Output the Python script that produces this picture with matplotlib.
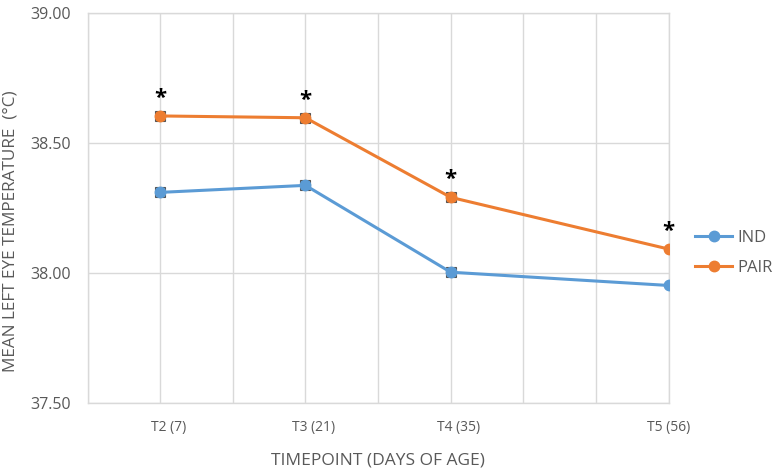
import matplotlib
matplotlib.use("Agg")
import matplotlib.pyplot as plt
from matplotlib.ticker import MultipleLocator
import matplotlib.transforms as mtransforms

plt.rcParams['font.family'] = ['Open Sans', 'DejaVu Sans']

# данные
days = [7, 21, 35, 56]
tick_labels = ["T2 (7)", "T3 (21)", "T4 (35)", "T5 (56)"]
ind = [38.31, 38.337, 38.003, 37.952]
pair = [38.604, 38.597, 38.291, 38.092]
signif = ["*", "*", "*", "*"]

blue = "#5B9BD5"
orange = "#ED7D31"
grid_c = "#D9D9D9"
txt_c = "#595959"

fig = plt.figure(figsize=(7.73, 4.72), dpi=100)
ax = fig.add_axes([0.1132, 0.1462, 0.7518, 0.8263])

# квадратные маркеры под кругами (как в исходнике)
ax.plot(days[:3], ind[:3], ls="none", marker="s", ms=7, mfc=blue, mec="#555555", mew=0.8, zorder=3)
ax.plot(days[:3], pair[:3], ls="none", marker="s", ms=7, mfc=orange, mec="#555555", mew=0.8, zorder=3)
ax.plot(days, ind, color=blue, lw=2.2, marker="o", ms=7.5, label="IND", zorder=4)
ax.plot(days, pair, color=orange, lw=2.2, marker="o", ms=7.5, label="PAIR", zorder=4)

for x, y, s in zip(days, pair, signif):
    ax.annotate(s, (x, y), xytext=(0, 5), textcoords="offset points",
                ha="center", va="bottom", fontsize=16, fontweight="bold", color="black")

ax.set_xlim(0, 56)
ax.set_ylim(37.5, 39.0)
ax.set_xticks(days)
ax.set_xticklabels(tick_labels)
ax.xaxis.set_minor_locator(MultipleLocator(7))
ax.yaxis.set_major_locator(MultipleLocator(0.5))
ax.set_yticklabels([f"{v:.2f}" for v in ax.get_yticks()])

ax.grid(True, which="both", axis="x", color=grid_c, lw=1)
ax.grid(True, which="major", axis="y", color=grid_c, lw=1)
ax.set_axisbelow(True)
for sp in ax.spines.values():
    sp.set_color(grid_c)
    sp.set_linewidth(1)

ax.tick_params(axis="both", which="both", length=0, colors=txt_c)
ax.tick_params(axis="x", labelsize=10, pad=12)
ax.tick_params(axis="y", labelsize=11.5, pad=12)

# подписи T2-T4 в исходнике сдвинуты немного вправо
shift = mtransforms.ScaledTranslation(8 / 100, 0, fig.dpi_scale_trans)
for lab in ax.get_xticklabels()[:3]:
    lab.set_transform(lab.get_transform() + shift)

ax.set_xlabel("TIMEPOINT (DAYS OF AGE)", fontsize=12.5, color=txt_c, labelpad=13)
ax.set_ylabel("MEAN LEFT EYE TEMPERATURE  (\u00b0C)", fontsize=12.3, color=txt_c)
ax.yaxis.set_label_coords(-0.118, 0.441)

leg = ax.legend(loc="center left", bbox_to_anchor=(1.02, 0.385), frameon=False,
                fontsize=12, handlelength=2.2, labelspacing=0.8, handletextpad=0.3)
for t in leg.get_texts():
    t.set_color(txt_c)

fig.savefig("out.png", dpi=100)
